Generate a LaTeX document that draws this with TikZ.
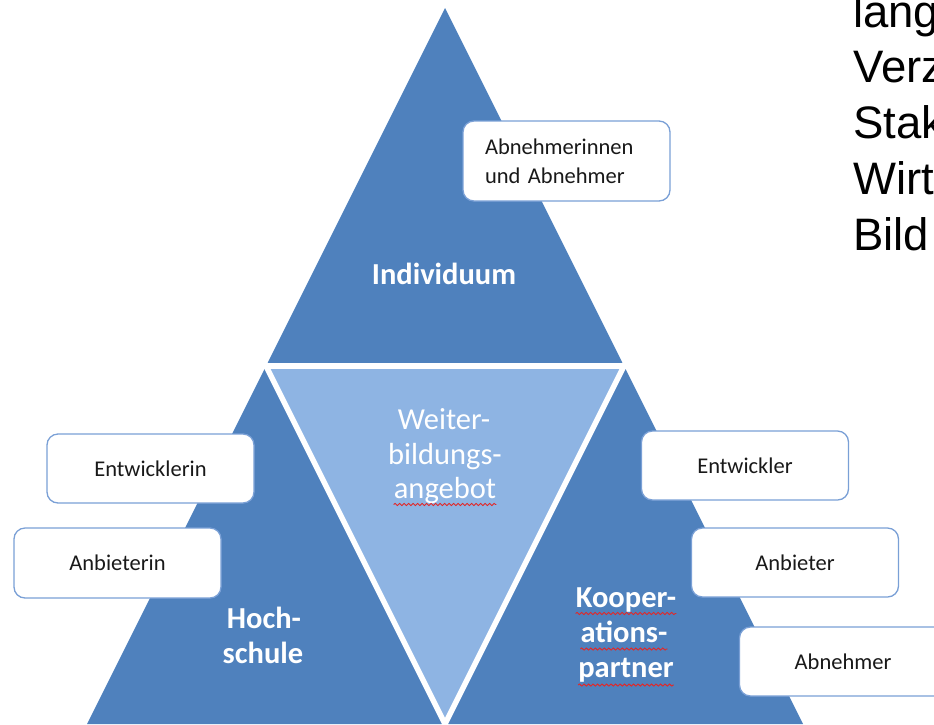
\documentclass[tikz,border=0pt]{standalone}
\usepackage{fontspec}
\setmainfont{Carlito}
\newfontfamily\arialfont{Liberation Sans}
\usetikzlibrary{calc,decorations.pathmorphing}

\definecolor{pyrdark}{RGB}{79,129,189}
\definecolor{pyrlight}{RGB}{142,180,227}
\definecolor{boxline}{RGB}{122,160,214}
\definecolor{boxtext}{RGB}{25,25,25}
\definecolor{spellred}{RGB}{225,40,40}

\begin{document}
\begin{tikzpicture}[x=1pt,y=-1pt,
  rolebox/.style={draw=boxline, line width=1.3pt, fill=white, rounded corners=11pt,
    minimum width=207pt, minimum height=69pt, inner sep=0pt, text=boxtext,
    font=\fontsize{22.5}{29}\selectfont},
  sidelabel/.style={text=white, font=\fontsize{30.5}{36}\selectfont\bfseries,
    anchor=base, inner sep=0pt},
  centerlabel/.style={text=white, font=\fontsize{30.5}{36}\selectfont,
    anchor=base, inner sep=0pt},
  sidetext/.style={font=\arialfont\fontsize{45.5}{55}\selectfont,
    anchor=base west, inner sep=0pt, text=black},
  gapline/.style={white, line width=5.5pt},
  spellmark/.style={spellred, line width=0.9pt, decorate,
    decoration={snake, segment length=4.5pt, amplitude=1.1pt}}
]
\useasboundingbox (0,0) rectangle (934,724);

% corners of the large triangle and of the inner (inverted) triangle
\coordinate (apex) at (445,8);
\coordinate (bl) at (87,724);
\coordinate (br) at (803,724);
\coordinate (ml) at (266,366);
\coordinate (mr) at (624,366);
\coordinate (mb) at (445,724);

\fill[pyrdark] (apex) -- (bl) -- (br) -- cycle;
\fill[pyrlight] (ml) -- (mr) -- (mb) -- cycle;

% white gaps separating the four parts
\draw[gapline] ($(mr)!1.04!(ml)$) -- ($(ml)!1.04!(mr)$);
\draw[gapline] ($(mb)!1.05!(ml)$) -- ($(ml)!1.05!(mb)$);
\draw[gapline] ($(mb)!1.05!(mr)$) -- ($(mr)!1.05!(mb)$);

% labels inside the triangles
\node[sidelabel] (indiv) at (444,284) {Individuum};
\node[sidelabel] (hs1) at (264,628) {Hoch-};
\node[sidelabel] (hs2) at (263,663) {schule};
\node[sidelabel] (kp1) at (626,607) {Kooper-};
\node[sidelabel] (kp2) at (624,642) {ations-};
\node[sidelabel] (kp3) at (626,677) {partner};
\node[centerlabel] (wb1) at (444,429) {Weiter-};
\node[centerlabel] (wb2) at (445,464) {bildungs-};
\node[centerlabel] (wb3) at (445,498) {angebot};

% spelling marks under some words
\draw[spellmark] ($(wb3.base west)+(0,6.5)$) -- ($(wb3.base east)+(0,6.5)$);
\draw[spellmark] ($(kp1.base west)+(0,6.5)$) -- ($(kp1.base east)+(0,6.5)$);
\draw[spellmark] ($(kp2.base west)+(0,7)$) -- ($(kp2.base east)+(0,7)$);
\draw[spellmark] ($(kp3.base west)+(0,8)$) -- ($(kp3.base east)+(0,8)$);

% role boxes
\node[rolebox, minimum height=80pt, text width=163pt, align=left] (abn) at (566.5,161)
  {Abnehmerinnen\\und Abnehmer};
\node[rolebox] (hsent) at (150.5,468.5) {Entwicklerin};
\node[rolebox, minimum height=70pt] (hsanb) at (117.5,563) {Anbieterin};
\node[rolebox] (kpent) at (745,465.5) {Entwickler};
\node[rolebox] (kpanb) at (795,562.5) {Anbieter};
\node[rolebox] (kpabn) at (843,661.5) {Abnehmer};

% running text at the right edge
\node[sidetext] (r1) at (853,27) {lang};
\node[sidetext] (r2) at (853,82.75) {Verz};
\node[sidetext] (r3) at (853,138.5) {Stak};
\node[sidetext] (r4) at (853,194.25) {Wirt};
\node[sidetext] (r5) at (853,250) {Bild};
\end{tikzpicture}
\end{document}
